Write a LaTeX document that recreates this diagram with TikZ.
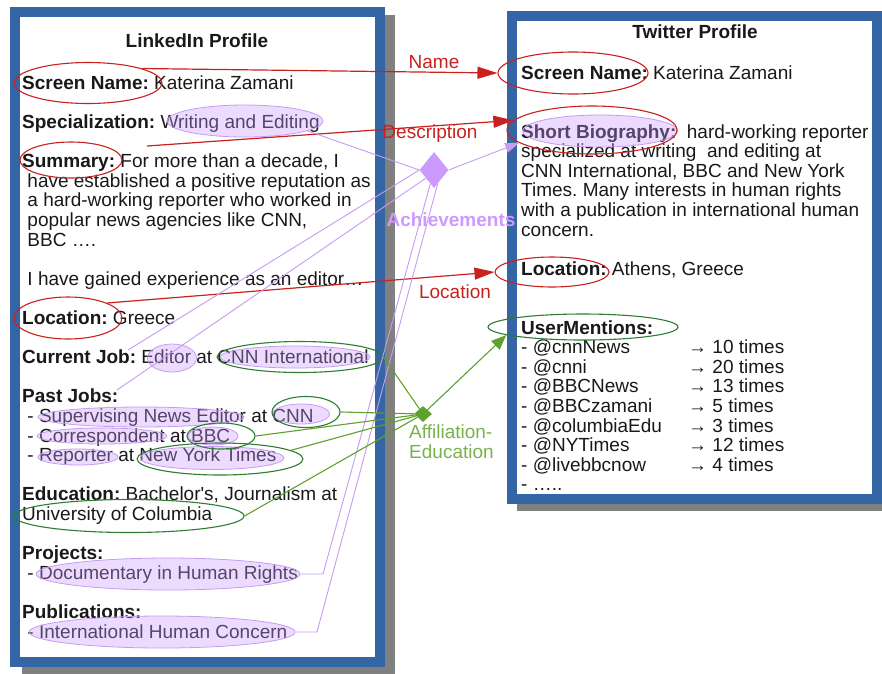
\documentclass[tikz,border=0pt]{standalone}
\usepackage{fontspec}
\setmainfont{Liberation Sans}
\usetikzlibrary{shapes.geometric,arrows.meta}
\frenchspacing

\definecolor{frameblue}{HTML}{3465A4}
\definecolor{shadowgray}{HTML}{808080}
\definecolor{linkred}{HTML}{C9211E}
\definecolor{linkpurple}{HTML}{C79BF2}
\definecolor{fillpurple}{HTML}{CC99FF}
\definecolor{linkgreen}{HTML}{5EA12C}
\definecolor{ringgreen}{HTML}{2E7D32}
\definecolor{labelgreen}{HTML}{77B24A}

% multi-line text sits on the baseline of its last line
\tikzset{
  body/.style={anchor=base west,align=left,inner sep=0pt,text=black!90,font=\fontsize{19}{19.6}\selectfont},
  title/.style={anchor=base,inner sep=0pt,text=black!90,font=\bfseries\fontsize{19}{19.6}\selectfont},
  ring/.style={ellipse,inner sep=0pt},
  redring/.style={ring,draw=linkred,line width=1.1pt},
  greenring/.style={ring,draw=ringgreen,line width=1.1pt},
  blob/.style={ring,draw=linkpurple,fill=fillpurple,fill opacity=0.35,line width=0.8pt},
  redlink/.style={linkred,line width=1.2pt,-{Triangle[length=20pt,width=12pt]}},
  purplelink/.style={linkpurple,line width=0.9pt},
  greenlink/.style={linkgreen,line width=1.1pt},
}

\begin{document}
\begin{tikzpicture}[x=1pt,y=-1pt]
\useasboundingbox (0,0) rectangle (882,673);

\fill[shadowgray] (22,15) rectangle (395,676);
\draw[frameblue,line width=10pt,fill=white] (15,12) rectangle (380,662);
\fill[shadowgray] (517,20) rectangle (892,511);
\draw[frameblue,line width=10pt,fill=white] (512,16) rectangle (877,499);

\node[title] (liTitle) at (197,47) {LinkedIn Profile};
\node[title] (twTitle) at (695,38) {Twitter Profile};

\node[body] (liText) at (22,638) {%
\textbf{Screen Name:} Katerina Zamani\\[19.6pt]
\textbf{Specialization:} Writing and Editing\\[19.6pt]
\textbf{Summary:} For more than a decade, I\\
\ have established a positive reputation as\\
\ a hard-working reporter who worked in\\
\ popular news agencies like CNN,\\
\ BBC ….\\[19.6pt]
\ I have gained experience as an editor…\\[19.6pt]
\textbf{Location:} Greece\\[19.6pt]
\textbf{Current Job:} Editor at CNN International\\[19.6pt]
\textbf{Past Jobs:}\\
\ - Supervising News Editor at CNN\\
\ - Correspondent at BBC\\
\ - Reporter at New York Times\\[19.6pt]
\textbf{Education:} Bachelor\textquotesingle s, Journalism at\\
University of Columbia\\[19.6pt]
\textbf{Projects:}\\
\ - Documentary in Human Rights\\[19.6pt]
\textbf{Publications:}\\
\ - International Human Concern};

\node[body] (twText) at (521,490.8) {%
\textbf{Screen Name:} Katerina Zamani\\[39.2pt]
\textbf{Short Biography:}\ \ hard-working reporter\\
specialized at writing\ \ and editing at\\
CNN International, BBC and New York\\
Times. Many interests in human rights\\
with a publication in international human\\
concern.\\[19.6pt]
\textbf{Location:} Athens, Greece\\[39.2pt]
\textbf{UserMentions:}\\
\makebox[167pt][l]{- @cnnNews}→ 10 times\\
\makebox[167pt][l]{- @cnni}→ 20 times\\
\makebox[167pt][l]{- @BBCNews}→ 13 times\\
\makebox[167pt][l]{- @BBCzamani}→ 5 times\\
\makebox[167pt][l]{- @columbiaEdu}→ 3 times\\
\makebox[167pt][l]{- @NYTimes}→ 12 times\\
\makebox[167pt][l]{- @livebbcnow}→ 4 times\\
- …..};

% highlighted values
\node[blob,minimum width=156pt,minimum height=32pt] (specB) at (245,121) {};
\node[blob,minimum width=155pt,minimum height=32pt] (bioB) at (600,131) {};
\node[blob,minimum width=49pt,minimum height=28pt] (editorB) at (172,358) {};
\node[blob,minimum width=150pt,minimum height=22pt] (cnnIntlB) at (295,357) {};
\node[blob,minimum width=206pt,minimum height=20pt] (superB) at (141,417) {};
\node[blob,minimum width=57pt,minimum height=20pt] (cnnOldB) at (301,414) {};
\node[blob,minimum width=130pt,minimum height=16pt] (corrB) at (102,436) {};
\node[blob,minimum width=50pt,minimum height=18pt] (bbcB) at (213,436) {};
\node[blob,minimum width=80pt,minimum height=16pt] (reporterB) at (78,457) {};
\node[blob,minimum width=144pt,minimum height=23pt] (nytB) at (212,458) {};
\node[blob,minimum width=264pt,minimum height=32pt] (docB) at (168,574) {};
\node[blob,minimum width=266pt,minimum height=32pt] (pubB) at (162,632) {};

\node[redring,minimum width=148pt,minimum height=41pt] (liName) at (88,83) {};
\node[redring,minimum width=102pt,minimum height=36pt] (liSum) at (71,160) {};
\node[redring,minimum width=108pt,minimum height=42pt] (liLoc) at (68,318) {};
\node[redring,minimum width=150pt,minimum height=42pt] (twName) at (573,73) {};
\node[redring,minimum width=170pt,minimum height=48pt] (twBio) at (592,130) {};
\node[redring,minimum width=114pt,minimum height=30pt] (twLoc) at (552,272) {};

\node[greenring,minimum width=190pt,minimum height=26pt] (twMent) at (583,327) {};
\node[greenring,minimum width=166pt,minimum height=31pt] (cnnIntlG) at (300,357) {};
\node[greenring,minimum width=68pt,minimum height=31pt] (cnnOldG) at (306,412) {};
\node[greenring,minimum width=68pt,minimum height=26pt] (bbcG) at (221,436) {};
\node[greenring,minimum width=166pt,minimum height=32pt] (nytG) at (220,459) {};
\node[greenring,minimum width=230pt,minimum height=33pt] (univG) at (129,516) {};

\node[diamond,fill=fillpurple,inner sep=0pt,minimum width=29pt,minimum height=36pt] (ach) at (434,170) {};
\node[diamond,fill=linkgreen,inner sep=0pt,minimum width=18pt,minimum height=16pt] (aff) at (423,414) {};

\coordinate (descStart) at (147,146);
\coordinate (editTip) at (128,350);
\coordinate (pastTip) at (117,390);
\coordinate (docBend) at (323,574);
\coordinate (pubBend) at (317,632);

\draw[redlink] (liName.15) -- (twName.west);
\draw[redlink] (descStart) -- (twBio.173);
\draw[redlink] (liLoc.21) -- (twLoc.west);

\draw[purplelink] (specB.-9) -- (ach.west);
\draw[purplelink,-{Triangle[length=14pt,width=10pt]}] (ach.east) -- (twBio.190);
\draw[purplelink] (ach.west) -- (editTip);
\draw[purplelink] (ach.225) -- (pastTip);
\draw[purplelink] (ach.255) -- (docBend) -- (docB.east);
\draw[purplelink] (ach.285) -- (pubBend) -- (pubB.east);

\draw[greenlink] (cnnIntlG.east) -- (aff);
\draw[greenlink] (cnnOldG.east) -- (aff);
\draw[greenlink] (bbcG.east) -- (aff);
\draw[greenlink] (nytG.7) -- (aff);
\draw[greenlink] (univG.east) -- (aff);
\draw[greenlink,-{Triangle[length=15pt,width=12pt]}] (aff) -- (twMent.186);

\node[anchor=base,inner sep=0pt,text=linkred,font=\fontsize{19}{19.6}\selectfont] (nameLbl) at (434,68) {Name};
\node[anchor=base,inner sep=0pt,text=linkred,font=\fontsize{19}{19.6}\selectfont] (descLbl) at (430,138) {Description};
\node[anchor=base,inner sep=0pt,text=fillpurple,font=\bfseries\fontsize{19}{19.6}\selectfont] (achLbl) at (451,226.7) {Achievements};
\node[anchor=base,inner sep=0pt,text=linkred,font=\fontsize{19}{19.6}\selectfont] (locLbl) at (455,298) {Location};
\node[body,text=labelgreen] (affLbl) at (409,458) {Affiliation-\\Education};
\end{tikzpicture}
\end{document}
